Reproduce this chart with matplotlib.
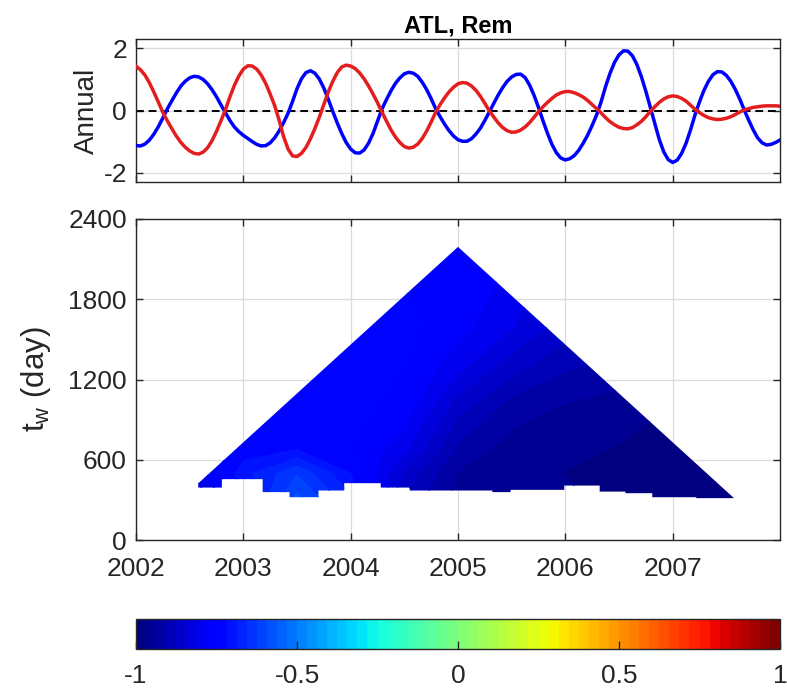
import numpy as np
import matplotlib
matplotlib.use('Agg')
import matplotlib.pyplot as plt
from matplotlib.patches import Polygon
from matplotlib.colors import Normalize
from matplotlib.cm import ScalarMappable

plt.rcParams['font.family'] = ['Liberation Sans', 'DejaVu Sans']
plt.rcParams['mathtext.fontset'] = 'custom'
plt.rcParams['mathtext.rm'] = 'Liberation Sans'
plt.rcParams['mathtext.it'] = 'Liberation Sans'
plt.rcParams['axes.unicode_minus'] = False

# ---------------- data: top panel (annual component, half-month samples) -------------
t_start = 2002.0
samples_per_year = 24
blue_vals = [-1.13, -1.14, -1.08, -0.95, -0.76, -0.52, -0.24, 0.05, 0.31, 0.56, 0.78, 0.94,
             1.05, 1.10, 1.08, 1.00, 0.86, 0.67, 0.44, 0.18, -0.07, -0.32, -0.53, -0.68,
             -0.80, -0.90, -1.00, -1.09, -1.14, -1.13, -1.04, -0.88, -0.66, -0.39, -0.09, 0.29,
             0.70, 1.02, 1.22, 1.28, 1.20, 1.01, 0.72, 0.36, -0.03, -0.40, -0.74, -1.03,
             -1.24, -1.36, -1.37, -1.27, -1.05, -0.74, -0.35, 0.05, 0.35, 0.63, 0.87, 1.05,
             1.18, 1.23, 1.20, 1.10, 0.91, 0.67, 0.38, 0.06, -0.20, -0.44, -0.65, -0.82,
             -0.94, -0.99, -0.99, -0.91, -0.76, -0.57, -0.32, -0.05, 0.23, 0.50, 0.74, 0.94,
             1.08, 1.16, 1.17, 1.06, 0.82, 0.49, 0.10, -0.33, -0.73, -1.09, -1.36, -1.53,
             -1.59, -1.55, -1.45, -1.28, -1.05, -0.79, -0.48, -0.14, 0.28, 0.77, 1.20, 1.55,
             1.79, 1.92, 1.91, 1.76, 1.48, 1.09, 0.62, 0.10, -0.43, -0.93, -1.33, -1.58,
             -1.67, -1.60, -1.38, -1.05, -0.62, -0.14, 0.28, 0.65, 0.94, 1.15, 1.25, 1.24,
             1.13, 0.94, 0.68, 0.37, 0.02, -0.31, -0.62, -0.88, -1.04, -1.11, -1.09, -1.03,
             -0.95]
red_vals = [1.42, 1.31, 1.14, 0.89, 0.59, 0.27, -0.06, -0.33, -0.58, -0.82, -1.02, -1.18,
            -1.30, -1.38, -1.40, -1.34, -1.20, -0.97, -0.67, -0.33, 0.03, 0.44, 0.81, 1.11,
            1.33, 1.44, 1.43, 1.33, 1.14, 0.87, 0.53, 0.16, -0.31, -0.84, -1.24, -1.46,
            -1.48, -1.38, -1.19, -0.91, -0.58, -0.21, 0.20, 0.60, 0.94, 1.22, 1.40, 1.46,
            1.43, 1.35, 1.21, 1.02, 0.79, 0.53, 0.25, -0.05, -0.34, -0.62, -0.85, -1.03,
            -1.16, -1.21, -1.18, -1.08, -0.90, -0.66, -0.37, -0.06, 0.19, 0.41, 0.60, 0.75,
            0.86, 0.90, 0.88, 0.79, 0.65, 0.46, 0.23, -0.01, -0.21, -0.40, -0.55, -0.65,
            -0.70, -0.69, -0.63, -0.53, -0.39, -0.22, -0.04, 0.12, 0.26, 0.39, 0.50, 0.57,
            0.61, 0.61, 0.57, 0.51, 0.43, 0.32, 0.19, 0.06, -0.08, -0.23, -0.36, -0.46,
            -0.54, -0.58, -0.59, -0.55, -0.46, -0.35, -0.20, -0.03, 0.12, 0.26, 0.37, 0.44,
            0.47, 0.45, 0.39, 0.30, 0.17, 0.04, -0.07, -0.16, -0.23, -0.27, -0.29, -0.28,
            -0.25, -0.20, -0.13, -0.05, 0.02, 0.06, 0.10, 0.12, 0.14, 0.15, 0.15, 0.15,
            0.14]

# ---------------- data: bottom panel (correlation vs. centre time and window) -------
grid_years = [2002.0, 2002.5, 2003.0, 2003.5, 2004.0, 2004.5, 2005.0, 2005.5,
              2006.0, 2006.5, 2007.0, 2007.5, 2008.0]
grid_tw = [300, 500, 700, 1000, 1300, 1600, 1900, 2200]
corr_tw300 = [-0.88, -0.86, -0.72, -0.58, -0.68, -0.88, -0.95, -0.96, -0.96, -0.98, -0.99, -0.99, -0.99]
corr_tw500 = [-0.85, -0.82, -0.70, -0.63, -0.72, -0.85, -0.94, -0.96, -0.97, -0.98, -0.99, -0.99, -0.99]
corr_tw700 = [-0.78, -0.77, -0.74, -0.73, -0.75, -0.80, -0.91, -0.95, -0.96, -0.97, -0.98, -0.99, -0.99]
corr_tw1000 = [-0.75, -0.75, -0.75, -0.74, -0.74, -0.76, -0.86, -0.92, -0.94, -0.95, -0.97, -0.98, -0.98]
corr_tw1300 = [-0.75, -0.75, -0.75, -0.75, -0.74, -0.75, -0.80, -0.86, -0.90, -0.92, -0.95, -0.96, -0.96]
corr_tw1600 = [-0.75, -0.75, -0.75, -0.75, -0.75, -0.74, -0.77, -0.81, -0.86, -0.90, -0.93, -0.95, -0.95]
corr_tw1900 = [-0.75, -0.75, -0.75, -0.75, -0.75, -0.75, -0.76, -0.79, -0.84, -0.88, -0.92, -0.94, -0.94]
corr_tw2200 = [-0.75, -0.75, -0.75, -0.75, -0.75, -0.75, -0.76, -0.79, -0.84, -0.88, -0.92, -0.94, -0.94]

# lower limit of the valid window (days) in steps along time
bin_edges = [2002.58, 2002.80, 2003.18, 2003.43, 2003.70, 2003.94, 2004.28, 2004.55,
             2005.32, 2005.49, 2005.99, 2006.32, 2006.56, 2006.81, 2007.22, 2007.60]
bin_min_tw = [392, 455, 358, 320, 370, 425, 392, 370, 358, 375, 407, 362, 350, 320, 313]
record_start, record_end = 2002.0, 2008.0
days_per_year = 365.25

year_ticks = [2002, 2003, 2004, 2005, 2006, 2007]
tw_ticks = [0, 600, 1200, 1800, 2400]
annual_ticks = [-2, 0, 2]
cbar_ticks = [-1, -0.5, 0, 0.5, 1]
cbar_labels = ['-1', '-0.5', '0', '0.5', '1']

# ---------------- figure ----------------
W, H = 787, 694
fig = plt.figure(figsize=(W / 100, H / 100), dpi=100)
ax_l, ax_r = 136, 780
axw = (ax_r - ax_l) / W
TICK_FS = 19
DARK = '#262626'

def style(ax):
    for s in ax.spines.values():
        s.set_color(DARK)
        s.set_linewidth(1.0)
    ax.tick_params(direction='in', top=True, right=True, length=5, width=1.0,
                   colors=DARK, labelsize=TICK_FS, labelcolor=DARK)
    ax.tick_params(axis='y', pad=6.5)
    ax.grid(True, color='#dcdcdc', linewidth=0.9)
    ax.set_axisbelow(True)

# top panel
ax1 = fig.add_axes([ax_l / W, 1 - 182 / H, axw, (182 - 39) / H])
t = t_start + np.arange(len(blue_vals)) / samples_per_year
ax1.axhline(0, color='black', linestyle=(0, (4, 2.5)), linewidth=1.4, zorder=2)
ax1.plot(t, blue_vals, color='#0000ff', linewidth=2.5, zorder=3)
ax1.plot(t, red_vals, color='#e41e1e', linewidth=2.5, zorder=3)
ax1.set_xlim(record_start, record_end)
ax1.set_ylim(-2.3, 2.3)
ax1.set_xticks(year_ticks)
ax1.set_xticklabels([])
ax1.set_yticks(annual_ticks)
style(ax1)
ax1.set_ylabel('Annual', fontsize=20, color=DARK)
ax1.yaxis.set_label_coords(-0.056, 0.5)
ax1.set_title('ATL, Rem', fontsize=17, fontweight='bold', pad=5)

# bottom panel
ax2 = fig.add_axes([ax_l / W, 1 - 540 / H, axw, (540 - 219) / H])
Z = np.array([corr_tw300, corr_tw500, corr_tw700, corr_tw1000,
              corr_tw1300, corr_tw1600, corr_tw1900, corr_tw2200])
cmap = plt.get_cmap('jet', 64)
levels = np.linspace(-1, 1, 65)
cs = ax2.contourf(grid_years, grid_tw, Z, levels=levels, cmap=cmap, zorder=2)

slope = 2 * days_per_year
apex_t = (record_start + record_end) / 2
apex_tw = (apex_t - record_start) * slope
e0 = bin_edges[0]
t_right = record_end - bin_min_tw[-1] / slope
pts = [(e0, bin_min_tw[0]), (e0, (e0 - record_start) * slope), (apex_t, apex_tw),
       (t_right, bin_min_tw[-1])]
for i in reversed(range(len(bin_min_tw))):
    right = min(bin_edges[i + 1], t_right)
    pts.append((right, bin_min_tw[i]))
    pts.append((bin_edges[i], bin_min_tw[i]))
poly = Polygon(pts, closed=True, transform=ax2.transData, facecolor='none', edgecolor='none')
ax2.add_patch(poly)
cs.set_clip_path(poly)

ax2.set_xlim(record_start, record_end)
ax2.set_ylim(0, 2400)
ax2.set_xticks(year_ticks)
ax2.set_xticklabels([str(y) for y in year_ticks])
ax2.set_yticks(tw_ticks)
style(ax2)
ax2.tick_params(axis='x', pad=12)
ax2.set_ylabel(r'$\mathregular{t_w}$ (day)', fontsize=22.5, color=DARK)
ax2.yaxis.set_label_coords(-0.129, 0.5)

# colorbar
cax = fig.add_axes([ax_l / W, 1 - 649 / H, axw, (649 - 619) / H])
sm = ScalarMappable(norm=Normalize(-1, 1), cmap=cmap)
cb = fig.colorbar(sm, cax=cax, orientation='horizontal')
cb.set_ticks(cbar_ticks)
cb.set_ticklabels(cbar_labels)
cb.outline.set_edgecolor(DARK)
cb.outline.set_linewidth(1.0)
cax.tick_params(direction='in', length=6, width=1.0, colors=DARK,
                labelsize=TICK_FS, pad=11)

fig.savefig('out.png', dpi=100)
